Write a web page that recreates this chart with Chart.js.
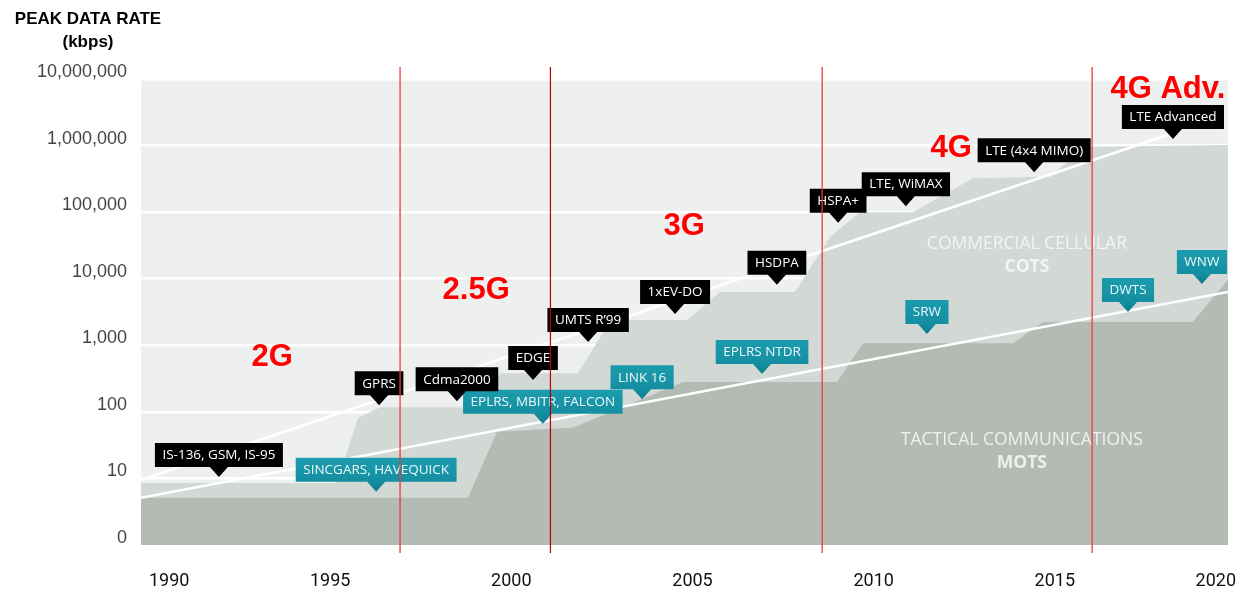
<!DOCTYPE html>
<html>
<head>
<meta charset="utf-8">
<script src="https://cdn.jsdelivr.net/npm/chart.js@4/dist/chart.umd.min.js"></script>
<style>
  html, body { margin: 0; padding: 0; background: #ffffff; }
  #wrap { width: 1239px; height: 590px; position: relative; }
</style>
</head>
<body>
<div id="wrap"><canvas id="c" width="1239" height="590"></canvas></div>
<script>
// ---------- data (y values are log10 of peak data rate in kbps) ----------
const titleLines = ['PEAK DATA RATE', '(kbps)'];
const yTickLabels = ['0', '10', '100', '1,000', '10,000', '100,000', '1,000,000', '10,000,000'];
const xTickLabels = ['1990', '1995', '2000', '2005', '2010', '2015', '2020'];

// Commercial cellular (COTS) envelope
const cotsYears = [1990, 1995.41, 1995.99, 1996.6, 1999.49, 1999.91, 2002.06, 2002.75, 2003.08, 2005.07, 2005.98, 2008.05, 2009.02, 2009.84, 2011.31, 2012.96, 2015.09, 2016.05, 2020];
const cotsRate  = [0.93, 0.93, 1.91, 2.07, 2.07, 2.58, 2.58, 3.19, 3.38, 3.38, 3.80, 3.80, 4.63, 5.00, 5.00, 5.51, 5.53, 5.98, 6.01];

// Tactical communications (MOTS) envelope
const motsYears = [1990, 1999.02, 1999.83, 2001.92, 2004.96, 2009.21, 2009.93, 2014.07, 2014.89, 2019.03, 2020];
const motsRate  = [0.71, 0.71, 1.70, 1.76, 2.45, 2.45, 3.03, 3.03, 3.35, 3.35, 3.98];

// Trend lines
const cotsTrendYears = [1990, 2018.4];
const cotsTrendRate  = [0.98, 6.17];
const motsTrendYears = [1990, 2020];
const motsTrendRate  = [0.71, 3.80];

// Generation boundary lines
const generationLineYears = [1997.15, 2001.3, 2008.8, 2016.25];
const generationLineSpan  = [-0.12, 7.18];

// Generation labels
const generations   = ['2G', '2.5G', '3G', '4G', '4G Adv.'];
const generationYrs = [1993.62, 1999.25, 2004.99, 2012.36, 2018.34];
const generationLvl = [2.82, 3.82, 4.78, 5.95, 6.85];

// Commercial technologies (callout tip positions)
const cellularTechs = ['IS-136, GSM, IS-95', 'GPRS', 'Cdma2000', 'EDGE', 'UMTS R\u201999', '1xEV-DO', 'HSDPA', 'HSPA+', 'LTE, WiMAX', 'LTE (4x4 MIMO)', 'LTE Advanced'];
const cellularYears = [1992.15, 1996.57, 1998.72, 2000.82, 2002.34, 2004.74, 2007.55, 2009.24, 2011.11, 2014.65, 2018.48];
const cellularRates = [1.02, 2.10, 2.16, 2.48, 3.05, 3.47, 3.91, 4.84, 5.09, 5.60, 6.10];

// Tactical technologies (callout tip positions)
const tacticalTechs = ['SINCGARS, HAVEQUICK', 'EPLRS, MBITR, FALCON', 'LINK 16', 'EPLRS NTDR', 'SRW', 'DWTS', 'WNW'];
const tacticalYears = [1996.49, 2001.09, 2003.83, 2007.14, 2011.69, 2017.24, 2019.28];
const tacticalRates = [0.80, 1.82, 2.19, 2.57, 3.17, 3.50, 3.92];

// Region captions
const regionTitles = ['COMMERCIAL CELLULAR', 'TACTICAL COMMUNICATIONS'];
const regionTags   = ['COTS', 'MOTS'];
const regionYears  = [2014.45, 2014.31];
const regionTitleLvl = [4.52, 1.58];
const regionTagLvl   = [4.18, 1.23];

// ---------- helpers ----------
function pts(xs, ys) { return xs.map((x, i) => ({ x: x, y: ys[i] })); }

const genLineColors = ['#ee3a3a', '#b80000', '#ee3a3a', '#ee3a3a'];
const genLineWidths = [1.3, 1.2, 1.3, 1.3];

const datasets = [
  { label: 'COTS', data: pts(cotsYears, cotsRate), fill: 'origin', backgroundColor: '#d2d8d4',
    borderColor: 'rgba(0,0,0,0)', borderWidth: 0, pointRadius: 0, tension: 0, order: 5 },
  { label: 'MOTS', data: pts(motsYears, motsRate), fill: 'origin', backgroundColor: '#b3bbb4',
    borderColor: 'rgba(0,0,0,0)', borderWidth: 0, pointRadius: 0, tension: 0, order: 4 },
  { label: 'COTS trend', data: pts(cotsTrendYears, cotsTrendRate), fill: false, borderColor: '#ffffff',
    borderWidth: 2.6, pointRadius: 0, order: 3 },
  { label: 'MOTS trend', data: pts(motsTrendYears, motsTrendRate), fill: false, borderColor: '#ffffff',
    borderWidth: 2.6, pointRadius: 0, order: 3 }
];
generationLineYears.forEach((yr, i) => {
  datasets.push({
    label: 'gen' + i, isGenLine: true,
    data: [{ x: yr, y: generationLineSpan[0] }, { x: yr, y: generationLineSpan[1] }],
    fill: false, borderColor: genLineColors[i], borderWidth: genLineWidths[i],
    pointRadius: 0, clip: false, order: 0
  });
});

function drawCallout(ctx, text, tx, ty, kind) {
  ctx.font = '13.5px "Open Sans", "DejaVu Sans", sans-serif';
  const w = ctx.measureText(text).width + 15;
  const h = 24, ph = 10, pw = 9;
  const bottom = ty - ph, top = bottom - h, left = tx - w / 2;
  let fill;
  if (kind === 'mil') {
    fill = ctx.createLinearGradient(0, top, 0, ty);
    fill.addColorStop(0, '#1c9cae');
    fill.addColorStop(0.7, '#148fa1');
    fill.addColorStop(1, '#0a7d8e');
  } else {
    fill = '#000000';
  }
  ctx.fillStyle = fill;
  ctx.beginPath();
  ctx.moveTo(left, top);
  ctx.lineTo(left + w, top);
  ctx.lineTo(left + w, bottom);
  ctx.lineTo(tx + pw, bottom);
  ctx.lineTo(tx, ty);
  ctx.lineTo(tx - pw, bottom);
  ctx.lineTo(left, bottom);
  ctx.closePath();
  ctx.fill();
  ctx.fillStyle = kind === 'mil' ? '#eef8fa' : '#ffffff';
  ctx.textAlign = 'center';
  ctx.textBaseline = 'middle';
  ctx.fillText(text, tx, top + h / 2 + 0.5);
}

function drawAnnotations(chart) {
  const ctx = chart.ctx, xs = chart.scales.x, ys = chart.scales.y;
  ctx.save();
  ctx.textAlign = 'center';
  ctx.textBaseline = 'middle';
  // region captions
  regionTitles.forEach((t, i) => {
    const px = xs.getPixelForValue(regionYears[i]);
    ctx.fillStyle = i === 0 ? '#f3f5f3' : '#eef0ee';
    ctx.font = '17.5px "Open Sans", sans-serif';
    ctx.fillText(t, px, ys.getPixelForValue(regionTitleLvl[i]));
    ctx.font = 'bold 17.5px "Open Sans", sans-serif';
    ctx.fillText(regionTags[i], px, ys.getPixelForValue(regionTagLvl[i]));
  });
  // generation labels
  ctx.fillStyle = '#ff0000';
  ctx.font = 'bold 31px "Liberation Sans", Arial, sans-serif';
  generations.forEach((g, i) => {
    ctx.fillText(g, xs.getPixelForValue(generationYrs[i]), ys.getPixelForValue(generationLvl[i]));
  });
  // callouts
  tacticalTechs.forEach((t, i) => {
    drawCallout(ctx, t, xs.getPixelForValue(tacticalYears[i]), ys.getPixelForValue(tacticalRates[i]), 'mil');
  });
  cellularTechs.forEach((t, i) => {
    drawCallout(ctx, t, xs.getPixelForValue(cellularYears[i]), ys.getPixelForValue(cellularRates[i]), 'com');
  });
  ctx.restore();
}

const annotPlugin = {
  id: 'annot',
  beforeDraw(chart) {
    const ctx = chart.ctx, a = chart.chartArea;
    ctx.save();
    ctx.fillStyle = '#ffffff';
    ctx.fillRect(0, 0, chart.width, chart.height);
    ctx.fillStyle = '#eef0ef';
    ctx.fillRect(a.left, a.top, a.right - a.left, a.bottom - a.top);
    ctx.fillStyle = '#000000';
    ctx.textAlign = 'center';
    ctx.textBaseline = 'middle';
    ctx.font = 'bold 17px "Liberation Sans", Arial, sans-serif';
    ctx.fillText(titleLines[0], 88, 19);
    ctx.fillText(titleLines[1], 88, 42);
    ctx.restore();
  },
  beforeDatasetsDraw(chart) { chart.$annotDone = false; },
  beforeDatasetDraw(chart, args) {
    const ds = chart.data.datasets[args.index];
    if (ds.isGenLine && !chart.$annotDone) {
      chart.$annotDone = true;
      drawAnnotations(chart);
    }
  }
};

new Chart(document.getElementById('c'), {
  type: 'line',
  data: { datasets: datasets },
  options: {
    responsive: false,
    animation: false,
    devicePixelRatio: 1,
    layout: { padding: { left: 0, top: 79, right: 11, bottom: 0 } },
    plugins: { legend: { display: false }, tooltip: { enabled: false }, title: { display: false } },
    scales: {
      x: {
        type: 'linear', min: 1990, max: 2020,
        grid: { display: false }, border: { display: false },
        ticks: {
          stepSize: 5, align: 'inner', labelOffset: 8, padding: 18, autoSkip: false, maxRotation: 0,
          color: '#111111', font: { family: 'Roboto', size: 18 },
          callback: (v, i) => xTickLabels[i]
        },
        afterFit: (s) => { s.height = 45; s.paddingLeft = 0; s.paddingRight = 0; }
      },
      y: {
        type: 'linear', min: 0, max: 7,
        grid: { color: '#ffffff', lineWidth: 2.6, drawTicks: false }, border: { display: false },
        ticks: {
          stepSize: 1, labelOffset: -7, padding: 14,
          color: '#454545', font: { family: 'Liberation Sans', size: 18 },
          callback: (v) => yTickLabels[v]
        },
        afterFit: (s) => { s.width = 141; s.paddingTop = 0; s.paddingBottom = 0; }
      }
    }
  },
  plugins: [annotPlugin]
});
</script>
</body>
</html>
